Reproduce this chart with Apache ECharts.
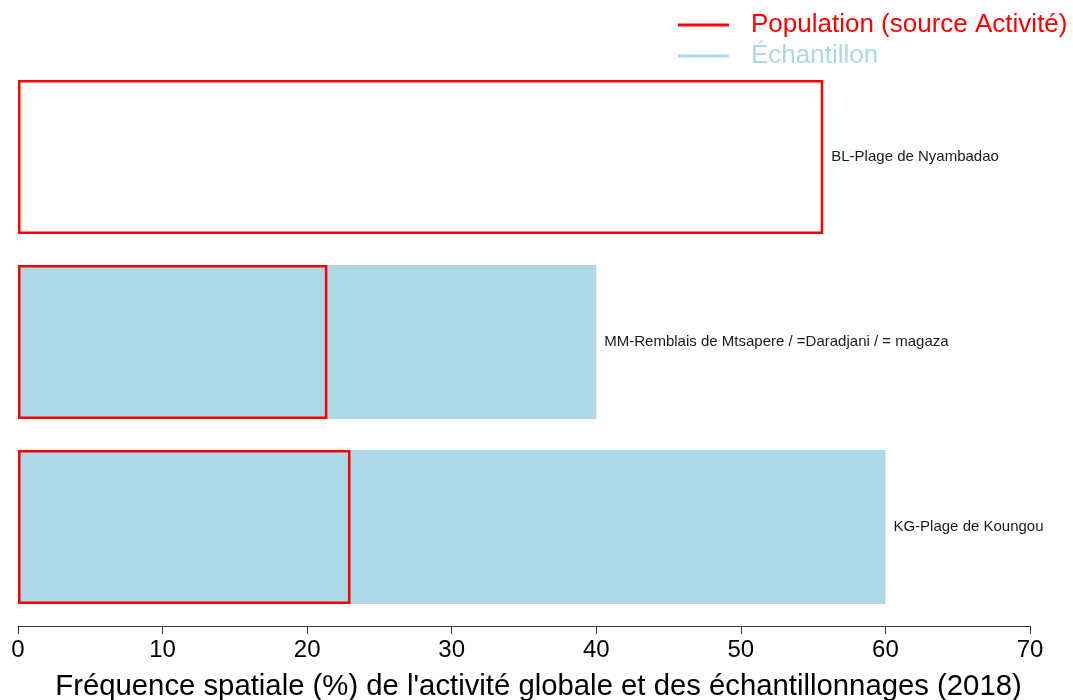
<!DOCTYPE html>
<html>
<head>
<meta charset="utf-8">
<script src="https://cdn.jsdelivr.net/npm/echarts@6/dist/echarts.min.js"></script>
<style>html,body{margin:0;padding:0;background:#fff}#c{width:1073px;height:700px}</style>
</head>
<body>
<div id="c"></div>
<script>
const categories = ['BL-Plage de Nyambadao', 'MM-Remblais de Mtsapere / =Daradjani / = magaza', 'KG-Plage de Koungou'];
const populationValues = [55.7, 21.4, 23.0];
const sampleValues = [0, 40.0, 60.0];
const xTicks = [0, 10, 20, 30, 40, 50, 60, 70];
const seriesNames = ['Population (source Activité)', 'Échantillon'];

const RED = '#ff0000', BLUE = '#add8e6';
const FONT = 'Liberation Sans, Arial, sans-serif';

function labelled(values, other) {
  return values.map((v, i) => ({
    value: v,
    label: {show: v >= other[i], formatter: categories[i]}
  }));
}

const chart = echarts.init(document.getElementById('c'), null, {renderer: 'canvas'});
chart.setOption({
  animation: false,
  backgroundColor: '#fff',
  grid: {left: 18, right: 43, top: 64.5, bottom: 80.5, containLabel: false, outerBoundsMode: 'none'},
  legend: {
    orient: 'vertical',
    left: 673, top: 7,
    itemWidth: 51, itemHeight: 3, itemGap: 5,
    icon: 'rect',
    selectedMode: false,
    textStyle: {fontFamily: FONT, fontSize: 26, padding: [0, 0, 0, 17]},
    data: [
      {name: seriesNames[0], itemStyle: {color: RED, borderWidth: 0}, textStyle: {color: RED}},
      {name: seriesNames[1], itemStyle: {color: BLUE, borderWidth: 0}, textStyle: {color: BLUE}}
    ]
  },
  xAxis: {
    type: 'value', min: xTicks[0], max: xTicks[xTicks.length - 1], interval: 10,
    offset: 6.5,
    name: "Fréquence spatiale (%) de l'activité globale et des échantillonnages (2018)",
    nameLocation: 'middle', nameGap: 46,
    nameTextStyle: {fontFamily: FONT, fontSize: 29.3, color: '#000', padding: [0, 0, 0, 29]},
    axisLine: {show: true, lineStyle: {color: '#333', width: 1}},
    axisTick: {show: true, length: 8, lineStyle: {color: '#333'}},
    axisLabel: {fontFamily: FONT, fontSize: 24, color: '#000', margin: 12},
    splitLine: {show: false}
  },
  yAxis: {
    type: 'category', data: categories, inverse: true,
    axisLine: {show: false}, axisTick: {show: false}, axisLabel: {show: false}
  },
  series: [
    {
      name: seriesNames[1], type: 'bar', barCategoryGap: '16.7%', barGap: '-100%',
      itemStyle: {color: BLUE},
      label: {position: 'right', distance: 8, fontFamily: FONT, fontSize: 15, color: '#1a1a1a'},
      data: labelled(sampleValues, populationValues)
    },
    {
      name: seriesNames[0], type: 'bar', barCategoryGap: '16.7%', barGap: '-100%',
      itemStyle: {color: 'rgba(0,0,0,0)', borderColor: RED, borderWidth: 2.5},
      label: {position: 'right', distance: 8, fontFamily: FONT, fontSize: 15, color: '#1a1a1a'},
      data: labelled(populationValues, sampleValues.map(v => v + 1e-9))
    }
  ]
});
</script>
</body>
</html>
